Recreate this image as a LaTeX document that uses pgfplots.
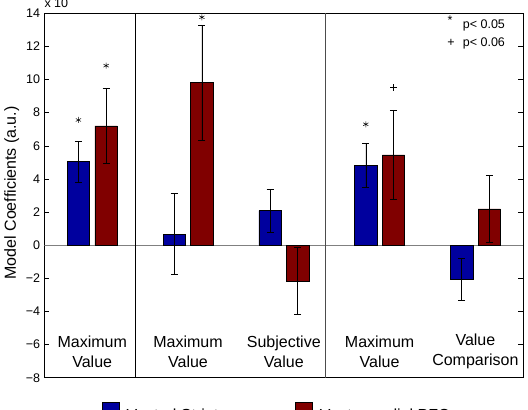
\documentclass[border=0pt]{standalone}
\usepackage{pgfplots}
\pgfplotsset{compat=1.18}
\usepackage{fontspec}
\setmainfont{Liberation Sans}
\definecolor{vsblue}{RGB}{0,0,158}
\definecolor{pfcred}{RGB}{128,0,0}
\begin{document}
\begin{tikzpicture}[x=1pt,y=1pt]
\useasboundingbox (0,0) rectangle (528,410);
\begin{axis}[
  at={(44.3pt,32.3pt)}, anchor=south west,
  scale only axis, width=479pt, height=364.4pt,
  xmin=0.5, xmax=5.5, ymin=-8, ymax=14,
  axis line style={black, line width=0.7pt},
  ytick={-8,-6,...,14},
  yticklabels={−8,−6,−4,−2,0,2,4,6,8,10,12,14},
  yticklabel style={font=\fontsize{12.5}{14}\selectfont, inner sep=0pt, xshift=-4pt},
  tick align=inside, ytick pos=both,
  major tick length=5pt,
  tick style={black, line width=0.6pt},
  xtick={1,2,3,4,5},
  xticklabels={{Maximum\\Value},{Maximum\\Value},{Subjective\\Value},{Maximum\\Value},{Value\\Comparison}},
  xticklabel style={font=\fontsize{16}{20}\selectfont, align=center, anchor=center, yshift=26pt},
  x tick style={draw=none},
  ylabel={Model Coefficients (a.u.)},
  ylabel style={font=\fontsize{16}{19}\selectfont, at={(axis description cs:-0.068,0.507)}, anchor=center},
  legend columns=2,
  legend style={at={(axis description cs:0.1205,-0.0659)}, anchor=north west, draw=none, fill=none,
    inner sep=0pt, font=\fontsize{16}{19}\selectfont,
    nodes={inner sep=0pt},
    /tikz/every odd column/.append style={column sep=7pt},
    /tikz/every even column/.append style={column sep=55pt}},
  legend image code/.code={\draw[#1, draw=black, line width=0.4pt] (0pt,-4pt) rectangle (17pt,13pt);},
  bar width=22.4pt,
]
\addplot[forget plot, gray, line width=0.7pt] coordinates {(0.5,0) (5.5,0)};
\addplot[ybar, bar shift=0pt, fill=vsblue, draw=black, line width=0.5pt,
  error bars/.cd, y dir=both, y explicit,
  error bar style={black, line width=0.6pt},
  error mark options={rotate=90, black, mark size=3.5pt, line width=0.6pt}]
  coordinates {
  (0.856,5.04) +- (0,1.23)
  (1.856,0.67) +- (0,2.45)
  (2.856,2.08) +- (0,1.30)
  (3.856,4.82) +- (0,1.31)
  (4.856,-2.06) +- (0,1.29)
  };
\addlegendentry{Ventral Striatum}
\addplot[ybar, bar shift=0pt, fill=pfcred, draw=black, line width=0.5pt,
  error bars/.cd, y dir=both, y explicit,
  error bar style={black, line width=0.6pt},
  error mark options={rotate=90, black, mark size=3.5pt, line width=0.6pt}]
  coordinates {
  (1.145,7.20) +- (0,2.26)
  (2.145,9.83) +- (0,3.47)
  (3.145,-2.16) +- (0,2.02)
  (4.145,5.46) +- (0,2.66)
  (5.145,2.20) +- (0,2.02)
  };
\addlegendentry{Ventromedial PFC}
\addplot[forget plot, only marks, mark=asterisk, mark size=3pt, black, line width=0.5pt]
  coordinates {(0.856,7.56) (1.145,10.84) (2.145,13.76) (3.856,7.3)};
\addplot[forget plot, only marks, mark=+, mark size=3.2pt, black, line width=0.5pt]
  coordinates {(4.145,9.51)};
\draw[black, line width=0.7pt] (axis cs:1.45,-8) -- (axis cs:1.45,14);
\draw[black!70, line width=0.7pt] (axis cs:3.43,-8) -- (axis cs:3.43,14);
\end{axis}
\node[anchor=base west, inner sep=0pt, font=\fontsize{12.5}{14}\selectfont] at (44.3,402.5) {x 10};
\node[anchor=base, inner sep=0pt, font=\fontsize{12.5}{14}\selectfont] at (450,385) {*};
\node[anchor=center, inner sep=0pt, font=\fontsize{12.5}{14}\selectfont] at (451,366.7) {+};
\node[anchor=base west, inner sep=0pt, font=\fontsize{12.5}{14}\selectfont] at (462.7,381.5) {p< 0.05};
\node[anchor=base west, inner sep=0pt, font=\fontsize{12.5}{14}\selectfont] at (462.7,363.2) {p< 0.06};
\end{tikzpicture}
\end{document}
